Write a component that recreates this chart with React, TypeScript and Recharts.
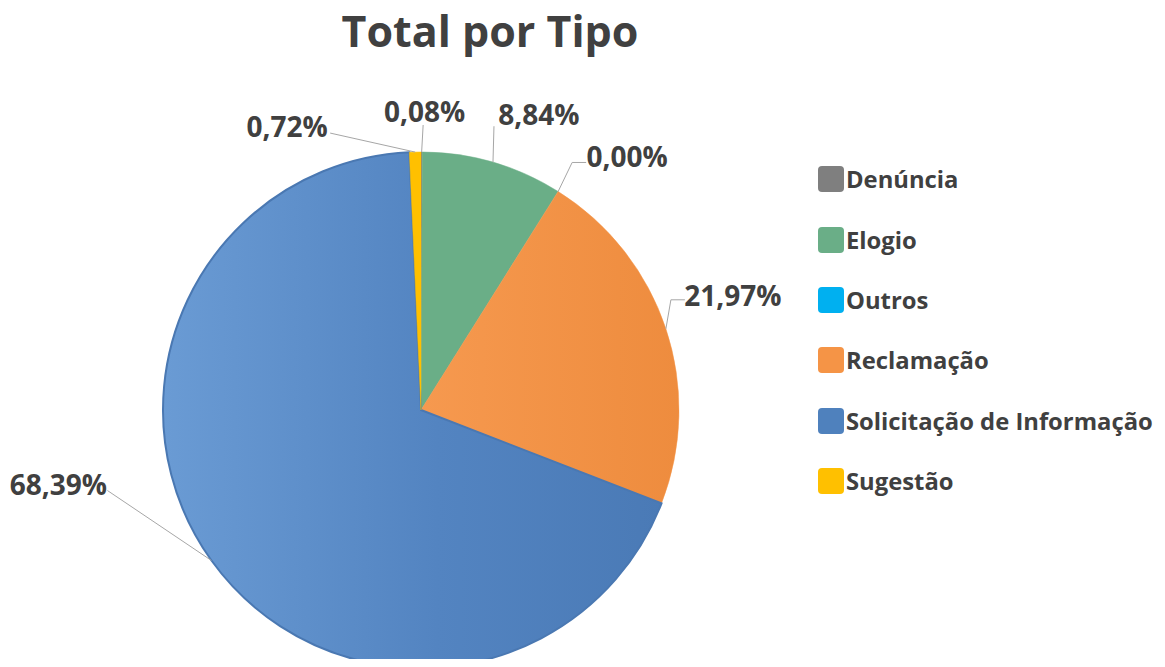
import { PieChart, Pie, Cell, Legend } from "recharts"

// Total por tipo de manifestação (%)
const tipos = ["Denúncia", "Elogio", "Outros", "Reclamação", "Solicitação de Informação", "Sugestão"]
const percentuais = [0.08, 8.84, 0.0, 21.97, 68.39, 0.72]
const cores = ["#7f7f7f", "#6aae87", "#00b0f0", "#f59446", "#4f81bd", "#ffc000"]
const gradientes = ["", "", "", "url(#gradLaranja)", "url(#gradAzul)", ""]

const data = tipos.map((name, i) => ({ name, value: percentuais[i] }))

const fmt = (v: number) => v.toFixed(2).replace(".", ",") + "%"

// where each label sits relative to the edge of its slice, plus leader-line points
const labelLayout = [
  { dx: 3, dy: -41, line: [[1.5, -27]] },
  { dx: 46, dy: -48, line: [[1, -36]] },
  { dx: 69, dy: -35, line: [[14, -29], [28, -29]] },
  { dx: 67, dy: -34, line: [[5, -29], [19, -29]] },
  { dx: -153, dy: -77, line: [[-104, -70]] },
  { dx: -128, dy: -26, line: [[-85, -19]] },
]

const RAD = Math.PI / 180
const FONT = "'Open Sans', sans-serif"

function renderLabel(props: any) {
  const { cx, cy, midAngle, outerRadius, index, value } = props
  const ex = cx + outerRadius * Math.cos(-midAngle * RAD)
  const ey = cy + outerRadius * Math.sin(-midAngle * RAD)
  const lay = labelLayout[index]
  const pts = [[ex, ey], ...lay.line.map(([x, y]) => [ex + x, ey + y])]
  return (
    <g key={"lbl" + index}>
      <polyline points={pts.map((p) => p.join(",")).join(" ")} fill="none" stroke="#a6a6a6" strokeWidth={1} />
      <text
        x={ex + lay.dx}
        y={ey + lay.dy}
        textAnchor="middle"
        dominantBaseline="central"
        fill="#404040"
        fontFamily={FONT}
        fontWeight={700}
        fontSize={28}
      >
        {fmt(value)}
      </text>
    </g>
  )
}

function Legenda() {
  return (
    <div style={{ fontFamily: FONT }}>
      {tipos.map((t, i) => (
        <div key={t} style={{ display: "flex", alignItems: "center", height: 60.4 }}>
          <div style={{ width: 26, height: 26, borderRadius: 4, background: cores[i], marginRight: 2, flexShrink: 0 }} />
          <span style={{ fontSize: 23.8, fontWeight: 700, color: "#404040", whiteSpace: "nowrap" }}>{t}</span>
        </div>
      ))}
    </div>
  )
}

export default function App() {
  return (
    <div style={{ position: "relative", margin: -8, width: 1165, height: 667, background: "#fff", overflow: "hidden" }}>
      <div
        style={{
          position: "absolute",
          left: 0,
          width: 980,
          top: 1,
          textAlign: "center",
          fontFamily: FONT,
          fontWeight: 700,
          fontSize: 43,
          color: "#404040",
        }}
      >
        Total por Tipo
      </div>
      <PieChart width={1165} height={667} margin={{ top: 0, right: 0, bottom: 0, left: 0 }}>
        <defs>
          <linearGradient id="gradAzul" x1="0" y1="0" x2="1" y2="0">
            <stop offset="0%" stopColor="#6a9bd4" />
            <stop offset="55%" stopColor="#5384c1" />
            <stop offset="100%" stopColor="#4a7ab6" />
          </linearGradient>
          <linearGradient id="gradLaranja" x1="0" y1="0" x2="1" y2="0">
            <stop offset="0%" stopColor="#f6994f" />
            <stop offset="100%" stopColor="#ee8c3e" />
          </linearGradient>
        </defs>
        <Pie
          data={data}
          dataKey="value"
          nameKey="name"
          cx={421}
          cy={410}
          outerRadius={258}
          startAngle={90}
          endAngle={-270}
          label={renderLabel}
          labelLine={false}
          isAnimationActive={false}
        >
          {data.map((d, i) => (
            <Cell key={d.name} fill={gradientes[i] || cores[i]} stroke={i === 4 ? "#4a78b2" : cores[i]} strokeWidth={i === 4 ? 2 : 0.5} />
          ))}
        </Pie>
        <Legend
          layout="vertical"
          align="right"
          verticalAlign="top"
          content={<Legenda />}
          wrapperStyle={{ left: 818, top: 149, width: 347 }}
        />
      </PieChart>
    </div>
  )
}
